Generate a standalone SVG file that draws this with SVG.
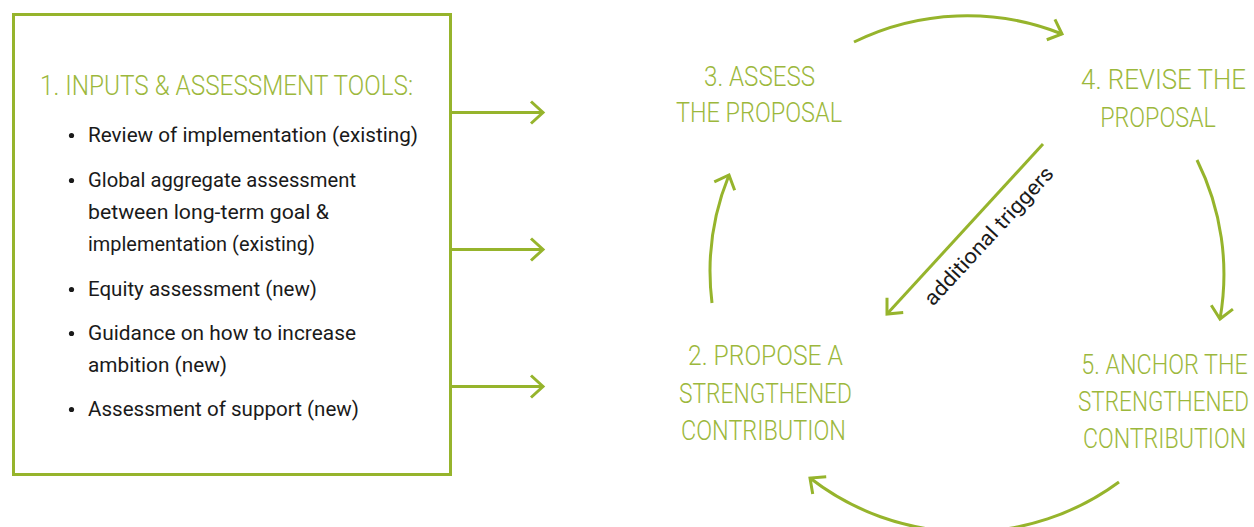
<svg xmlns="http://www.w3.org/2000/svg" width="1254" height="527" viewBox="0 0 1254 527">
  <style>
    .frame { fill: none; stroke: #96b42c; stroke-width: 3; }
    .link { fill: none; stroke: #96b42c; stroke-width: 3; }
    .step { font-family: Roboto, "Liberation Sans", sans-serif; font-weight: 300; font-size: 28px; fill: #9cb83c; }
    .mid { text-anchor: middle; }
    .item { font-family: Roboto, "Liberation Sans", sans-serif; font-size: 21px; fill: #1a1a1a; }
    .dot { fill: #1a1a1a; }
  </style>
  <defs>
    <marker id="chev" markerUnits="userSpaceOnUse" markerWidth="30" markerHeight="30" viewBox="-16 -15 20 30" refX="0" refY="0" orient="auto" overflow="visible">
      <path d="M-12,-11 L0,0 L-12,11" fill="none" stroke="#96b42c" stroke-width="3"/>
    </marker>
  </defs>

  <rect width="1254" height="527" fill="#ffffff"/>

  <!-- Step 1: inputs box -->
  <g id="node-inputs">
    <rect class="frame" x="13.5" y="14.5" width="437" height="460"/>
    <text class="step" x="40" y="95" textLength="373" lengthAdjust="spacingAndGlyphs">1. INPUTS &amp; ASSESSMENT TOOLS:</text>
    <circle class="dot" cx="71.5" cy="135.5" r="2.6"/>
    <text class="item" x="88" y="142" textLength="330" lengthAdjust="spacingAndGlyphs">Review of implementation (existing)</text>
    <circle class="dot" cx="71.5" cy="180.5" r="2.6"/>
    <text class="item" x="88" y="187" textLength="268" lengthAdjust="spacingAndGlyphs">Global aggregate assessment</text>
    <text class="item" x="88" y="219" textLength="241" lengthAdjust="spacingAndGlyphs">between long-term goal &amp;</text>
    <text class="item" x="88" y="251" textLength="227" lengthAdjust="spacingAndGlyphs">implementation (existing)</text>
    <circle class="dot" cx="71.5" cy="289.5" r="2.6"/>
    <text class="item" x="88" y="296" textLength="229" lengthAdjust="spacingAndGlyphs">Equity assessment (new)</text>
    <circle class="dot" cx="71.5" cy="333.5" r="2.6"/>
    <text class="item" x="88" y="340" textLength="268" lengthAdjust="spacingAndGlyphs">Guidance on how to increase</text>
    <text class="item" x="88" y="372" textLength="139" lengthAdjust="spacingAndGlyphs">ambition (new)</text>
    <circle class="dot" cx="71.5" cy="409.5" r="2.6"/>
    <text class="item" x="88" y="416" textLength="271" lengthAdjust="spacingAndGlyphs">Assessment of support (new)</text>
  </g>

  <!-- Step 2 -->
  <g id="node-propose">
    <text class="step" x="688" y="365" textLength="155" lengthAdjust="spacingAndGlyphs">2. PROPOSE A</text>
    <text class="step" x="679" y="403" textLength="173" lengthAdjust="spacingAndGlyphs">STRENGTHENED</text>
    <text class="step" x="681" y="440" textLength="165" lengthAdjust="spacingAndGlyphs">CONTRIBUTION</text>
  </g>

  <!-- Step 3 -->
  <g id="node-assess">
    <text class="step" x="704" y="86" textLength="111" lengthAdjust="spacingAndGlyphs">3. ASSESS</text>
    <text class="step" x="676" y="122" textLength="166" lengthAdjust="spacingAndGlyphs">THE PROPOSAL</text>
  </g>

  <!-- Step 4: right column, narrowed by a horizontal scale -->
  <g id="node-revise">
    <text class="step mid" transform="translate(1163.5,0) scale(0.85,1)" x="0" y="89" textLength="194" lengthAdjust="spacingAndGlyphs">4. REVISE THE</text>
    <text class="step mid" transform="translate(1158,0) scale(0.85,1)" x="0" y="127" textLength="136" lengthAdjust="spacingAndGlyphs">PROPOSAL</text>
  </g>

  <!-- Step 5 -->
  <g id="node-anchor">
    <text class="step mid" transform="translate(1164.5,0) scale(0.85,1)" x="0" y="374" textLength="196" lengthAdjust="spacingAndGlyphs">5. ANCHOR THE</text>
    <text class="step mid" transform="translate(1163.5,0) scale(0.75,1)" x="0" y="411" textLength="228" lengthAdjust="spacingAndGlyphs">STRENGTHENED</text>
    <text class="step mid" transform="translate(1164.5,0) scale(0.85,1)" x="0" y="448" textLength="192" lengthAdjust="spacingAndGlyphs">CONTRIBUTION</text>
  </g>

  <!-- Connectors -->
  <g id="connectors">
    <line class="link" x1="451" y1="112.5" x2="543" y2="112.5" marker-end="url(#chev)"/>
    <line class="link" x1="451" y1="249.5" x2="543" y2="249.5" marker-end="url(#chev)"/>
    <line class="link" x1="451" y1="386.5" x2="543" y2="386.5" marker-end="url(#chev)"/>

    <path class="link" d="M854,42 A256,256 0 0 1 1062,34" marker-end="url(#chev)"/>
    <path class="link" d="M1197,160 A256,256 0 0 1 1220,319" marker-end="url(#chev)"/>
    <path class="link" d="M1119,482 A256,256 0 0 1 810,478" marker-end="url(#chev)"/>
    <path class="link" d="M712,303 A256,256 0 0 1 729,175" marker-end="url(#chev)"/>

    <line class="link" x1="1043" y1="144" x2="887" y2="314" marker-end="url(#chev)"/>
    <text class="item" transform="translate(933,307) rotate(-47.4)" x="0" y="0" textLength="180" lengthAdjust="spacingAndGlyphs">additional triggers</text>
  </g>
</svg>
